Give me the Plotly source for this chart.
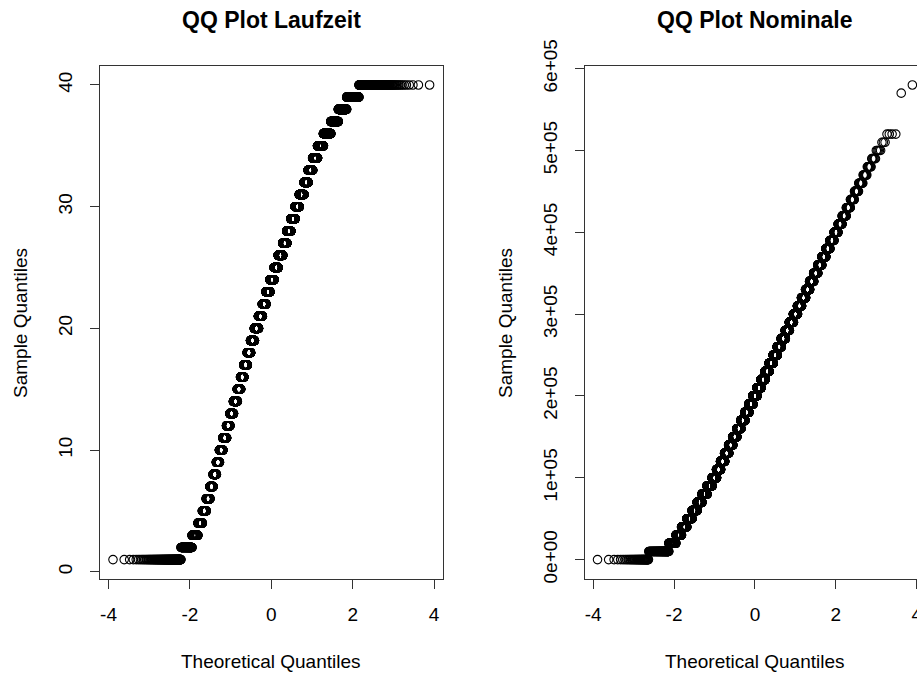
from statistics import NormalDist

import numpy as np
import plotly.graph_objects as go

# Laufzeit: observed integer values and how many loans have each value
laufzeit_values = list(range(1, 41))
laufzeit_counts = [132, 124, 100, 95, 98, 107, 108, 122, 126, 159,
                   186, 182, 223, 257, 233, 247, 278, 274, 340, 373,
                   366, 353, 378, 419, 396, 428, 378, 364, 363, 334,
                   347, 284, 277, 269, 279, 281, 222, 178, 164, 156]

# Nominale: observed amounts and their frequencies
nominale_values = [0, 10000, 20000, 30000, 40000, 50000, 60000, 70000, 80000, 90000,
                   100000, 110000, 120000, 130000, 140000, 150000, 160000, 170000, 180000, 190000,
                   200000, 210000, 220000, 230000, 240000, 250000, 260000, 270000, 280000, 290000,
                   300000, 310000, 320000, 330000, 340000, 350000, 360000, 370000, 380000, 390000,
                   400000, 410000, 420000, 430000, 440000, 450000, 460000, 470000, 480000, 490000,
                   500000, 510000, 520000, 570000, 580000]
nominale_counts = [43, 123, 87, 95, 112, 140, 164, 187, 229, 266,
                   265, 266, 290, 312, 333, 352, 368, 381, 391, 397,
                   400, 397, 391, 381, 368, 352, 333, 312, 290, 266,
                   242, 218, 194, 171, 150, 130, 111, 94, 79, 66,
                   54, 44, 36, 28, 22, 18, 14, 10, 8, 6,
                   5, 3, 4, 1, 1]

x_ticks = [-4, -2, 0, 2, 4]
x_ticktext = ["-4", "-2", "0", "2", "4"]
laufzeit_ticks = [0, 10, 20, 30, 40]
nominale_ticks = [0, 100000, 200000, 300000, 400000, 500000, 600000]
nominale_ticktext = ["0e+00", "1e+05", "2e+05", "3e+05", "4e+05", "5e+05", "6e+05"]


def qq(values, counts):
    """Sorted sample against normal quantiles of ppoints(n)."""
    sample = np.repeat(np.asarray(values, dtype=float), counts)
    n = sample.size
    nd = NormalDist()
    theo = np.array([nd.inv_cdf((i - 0.5) / n) for i in range(1, n + 1)])
    return theo, sample


W, H = 917, 673
FONT = "Liberation Sans, Arial, Helvetica, sans-serif"
LINE = "#333333"

lx, ly = qq(laufzeit_values, laufzeit_counts)
nx, ny = qq(nominale_values, nominale_counts)

marker = dict(symbol="circle-open", size=8.5, color="black", line=dict(width=1.1, color="black"))

fig = go.Figure()
fig.add_trace(go.Scatter(x=lx, y=ly, mode="markers", marker=marker,
                         xaxis="x", yaxis="y", showlegend=False))
fig.add_trace(go.Scatter(x=nx, y=ny, mode="markers", marker=marker,
                         xaxis="x2", yaxis="y2", showlegend=False))


def px_x(p):
    return p / W


def px_y(p):
    return 1 - p / H


y_dom = [px_y(578.6), px_y(66)]

axis_common = dict(
    showgrid=False, zeroline=False, showline=True, linecolor=LINE, linewidth=1,
    ticks="outside", ticklen=9, tickwidth=1, tickcolor=LINE, automargin=False,
    ticklabeloverflow="allow",
    tickfont=dict(family=FONT, size=19, color="black"),
)

fig.update_layout(
    width=W, height=H,
    margin=dict(l=0, r=0, t=0, b=0, autoexpand=False),
    paper_bgcolor="white", plot_bgcolor="white",
    xaxis=dict(domain=[px_x(100), px_x(442.6)], range=[-4.21, 4.21],
               tickvals=x_ticks, ticktext=x_ticktext, mirror=True, anchor="y",
               ticklabelstandoff=10, **axis_common),
    yaxis=dict(domain=y_dom, range=[-0.56, 41.56], tickvals=laufzeit_ticks,
               tickangle=-90, mirror=True, anchor="x",
               ticklabelstandoff=10, **axis_common),
    xaxis2=dict(domain=[px_x(585), 1.0], range=[-4.2, 4.005],
                tickvals=x_ticks, ticktext=x_ticktext, mirror=True, anchor="y2",
                ticklabelstandoff=10, **axis_common),
    yaxis2=dict(domain=y_dom, range=[-23200, 603200], tickvals=nominale_ticks,
                ticktext=nominale_ticktext, tickangle=-90, anchor="x2",
                ticklabelstandoff=10, **axis_common),
)

label_font = dict(family=FONT, size=19, color="black")
title_font = dict(family=FONT, size=23, color="black")

annotations = [
    dict(text="<b>QQ Plot Laufzeit</b>", x=px_x(271), y=px_y(20), font=title_font),
    dict(text="<b>QQ Plot Nominale</b>", x=px_x(755), y=px_y(20), font=title_font),
    dict(text="Theoretical Quantiles", x=px_x(271), y=px_y(661), font=label_font),
    dict(text="Theoretical Quantiles", x=px_x(755), y=px_y(661), font=label_font),
    dict(text="Sample Quantiles", x=px_x(20), y=px_y(323), font=label_font, textangle=-90),
    dict(text="Sample Quantiles", x=px_x(505), y=px_y(323), font=label_font, textangle=-90),
]
for a in annotations:
    a.update(xref="paper", yref="paper", xanchor="center", yanchor="middle", showarrow=False)
fig.update_layout(annotations=annotations)

fig.write_html("out.html")
